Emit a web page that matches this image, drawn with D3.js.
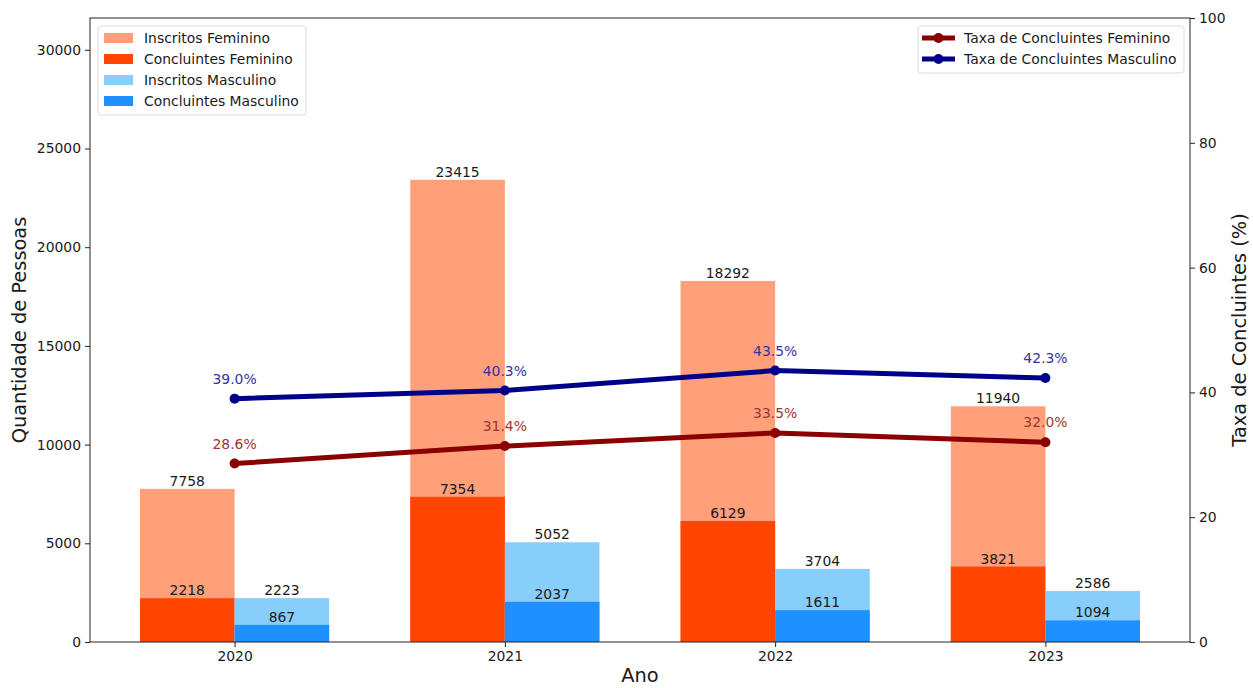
<!DOCTYPE html>
<html><head><meta charset="utf-8">
<script src="https://cdn.jsdelivr.net/npm/d3@7"></script>
<style>
body{margin:0;background:#fff;}
svg text{font-family:"DejaVu Sans",sans-serif;}
</style></head>
<body><svg id="chart" width="1253" height="688"></svg>
<script>
const years = ["2020","2021","2022","2023"];
const inscritosFem = [7758, 23415, 18292, 11940];
const concluintesFem = [2218, 7354, 6129, 3821];
const inscritosMasc = [2223, 5052, 3704, 2586];
const concluintesMasc = [867, 2037, 1611, 1094];
const taxaFem = [28.6, 31.4, 33.5, 32.0];
const taxaMasc = [39.0, 40.3, 43.5, 42.3];
const leftTicks = [0,5000,10000,15000,20000,25000,30000];
const rightTicks = [0,20,40,60,80,100];

const svg = d3.select("#chart");
const L=90, R=1190, T=18, B=642;
const bw = 0.35;
const x = d3.scaleLinear().domain([-bw-0.185, 3+bw+0.185]).range([L,R]);
const y = d3.scaleLinear().domain([0, d3.max(inscritosFem)*1.35]).range([B,T]);
const y2 = d3.scaleLinear().domain([0,100]).range([B,T]);
const fs = 13.9;

const C = {inF:"#FFA07A", coF:"#FF4500", inM:"#87CEFA", coM:"#1E90FF", lF:"#8B0000", lM:"#00008B"};

function bars(data, off, color){
  svg.append("g").selectAll("rect").data(data).join("rect")
    .attr("x",(d,i)=>x(i+off)).attr("width",x(bw)-x(0))
    .attr("y",d=>y(d)).attr("height",d=>B-y(d)).attr("fill",color);
}
function barLabels(data, off){
  svg.append("g").selectAll("text").data(data).join("text")
    .attr("x",(d,i)=>x(i+off+bw/2)).attr("y",d=>y(d)-3)
    .attr("text-anchor","middle").attr("font-size",fs).attr("fill","#1a1a1a").text(d=>d);
}
bars(inscritosFem,-bw,C.inF);
bars(concluintesFem,-bw,C.coF);
bars(inscritosMasc,0,C.inM);
bars(concluintesMasc,0,C.coM);
barLabels(inscritosFem,-bw);
barLabels(concluintesFem,-bw);
barLabels(inscritosMasc,0);
barLabels(concluintesMasc,0);

// axes
const axL = svg.append("g").attr("transform",`translate(${L},0)`)
  .call(d3.axisLeft(y).tickValues(leftTicks).tickSize(5).tickPadding(4).tickFormat(d3.format("d")));
const axB = svg.append("g").attr("transform",`translate(0,${B})`)
  .call(d3.axisBottom(x).tickValues([0,1,2,3]).tickSize(5).tickPadding(4).tickFormat(i=>years[i]));
const axR = svg.append("g").attr("transform",`translate(${R},0)`)
  .call(d3.axisRight(y2).tickValues(rightTicks).tickSize(5).tickPadding(4));
[axL,axB,axR].forEach(a=>{
  a.select(".domain").remove();
  a.selectAll("text").attr("font-size",fs).attr("fill","#1a1a1a").attr("font-family","DejaVu Sans");
  a.selectAll("line").attr("stroke","#222");
});
svg.append("rect").attr("x",L).attr("y",T).attr("width",R-L).attr("height",B-T)
  .attr("fill","none").attr("stroke","#222").attr("stroke-width",1);

// lines
function series(vals,color,lblColor){
  const line = d3.line().x((d,i)=>x(i)).y(d=>y2(d));
  svg.append("path").datum(vals).attr("d",line).attr("fill","none")
    .attr("stroke",color).attr("stroke-width",5).attr("stroke-linejoin","round");
  svg.append("g").selectAll("circle").data(vals).join("circle")
    .attr("cx",(d,i)=>x(i)).attr("cy",d=>y2(d)).attr("r",5).attr("fill",color);
  svg.append("g").selectAll("text").data(vals).join("text")
    .attr("x",(d,i)=>x(i)).attr("y",d=>y2(d)-15)
    .attr("text-anchor","middle").attr("font-size",fs).attr("fill",lblColor)
    .text(d=>d.toFixed(1)+"%");
}
series(taxaFem,C.lF,"#A23333");
series(taxaMasc,C.lM,"#3333A2");

// axis labels
svg.append("text").attr("x",(L+R)/2).attr("y",682).attr("text-anchor","middle")
  .attr("font-size",19.4).attr("fill","#1a1a1a").text("Ano");
svg.append("text").attr("transform",`translate(26,${(T+B)/2}) rotate(-90)`).attr("text-anchor","middle")
  .attr("font-size",19.4).attr("fill","#1a1a1a").text("Quantidade de Pessoas");
svg.append("text").attr("transform",`translate(1246,${(T+B)/2}) rotate(-90)`).attr("text-anchor","middle")
  .attr("font-size",19.4).attr("fill","#1a1a1a").text("Taxa de Concluintes (%)");

// legends
const leg1 = [["Inscritos Feminino",C.inF],["Concluintes Feminino",C.coF],["Inscritos Masculino",C.inM],["Concluintes Masculino",C.coM]];
const g1 = svg.append("g");
g1.append("rect").attr("x",98).attr("y",26).attr("width",208).attr("height",89).attr("rx",3)
  .attr("fill","#fff").attr("fill-opacity",0.8).attr("stroke","#ddd");
leg1.forEach((d,i)=>{
  g1.append("rect").attr("x",104).attr("y",33+i*21).attr("width",29).attr("height",10).attr("fill",d[1]);
  g1.append("text").attr("x",144).attr("y",43+i*21).attr("font-size",fs).attr("fill","#1a1a1a").text(d[0]);
});
const leg2 = [["Taxa de Concluintes Feminino",C.lF],["Taxa de Concluintes Masculino",C.lM]];
const g2 = svg.append("g");
g2.append("rect").attr("x",918).attr("y",26).attr("width",266).attr("height",47).attr("rx",3)
  .attr("fill","#fff").attr("fill-opacity",0.8).attr("stroke","#ddd");
leg2.forEach((d,i)=>{
  g2.append("line").attr("x1",922).attr("x2",955).attr("y1",38+i*21).attr("y2",38+i*21)
    .attr("stroke",d[1]).attr("stroke-width",5);
  g2.append("circle").attr("cx",938.5).attr("cy",38+i*21).attr("r",5).attr("fill",d[1]);
  g2.append("text").attr("x",964).attr("y",43+i*21).attr("font-size",fs).attr("fill","#1a1a1a").text(d[0]);
});
</script></body></html>
